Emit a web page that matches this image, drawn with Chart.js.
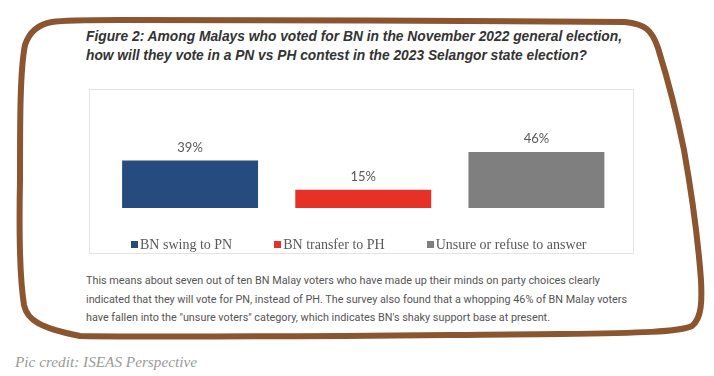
<!DOCTYPE html>
<html>
<head>
<meta charset="utf-8">
<script src="https://cdn.jsdelivr.net/npm/chart.js@4.4.0/dist/chart.umd.min.js"></script>
<style>
  html, body { margin: 0; padding: 0; background: #fff; }
  #page { position: relative; width: 714px; height: 376px; overflow: hidden; }
  .line { position: absolute; white-space: nowrap; transform-origin: 0 50%; line-height: 18px; }
  .title { left: 86px; font: italic bold 14px "Liberation Sans", Arial, sans-serif; color: #333; }
  .para { left: 86px; font: 11px Roboto, sans-serif; color: #555; }
  #credit { left: 15px; top: 354px; font: italic 15px "Liberation Serif", serif; color: #9a9a9a; }
  #box { position: absolute; left: 89px; top: 89px; width: 543px; height: 163px; border: 1px solid #e4e4e4; }
  #chartWrap { position: absolute; left: 89px; top: 89px; width: 545px; height: 165px; }
  #legend { position: absolute; left: 131px; top: 236px; display: flex; gap: 42px;
            font: 14px "Liberation Serif", "Times New Roman", serif; color: #595959; line-height: 18px; }
  #legend span.sw { display: inline-block; width: 7px; height: 7px; margin-right: 2px; vertical-align: 1px; }
  svg { position: absolute; left: 0; top: 0; }
</style>
</head>
<body>
<div id="page">
  <div class="line title" style="top:28px" data-w="536">Figure 2: Among Malays who voted for BN in the November 2022 general election,</div>
  <div class="line title" style="top:47px" data-w="501">how will they vote in a PN vs PH contest in the 2023 Selangor state election?</div>

  <div id="box"></div>
  <div id="chartWrap"><canvas id="myChart"></canvas></div>
  <div id="legend"></div>

  <div class="line para" style="top:274px" data-w="514">This means about seven out of ten BN Malay voters who have made up their minds on party choices clearly</div>
  <div class="line para" style="top:293px" data-w="541">indicated that they will vote for PN, instead of PH. The survey also found that a whopping 46% of BN Malay voters</div>
  <div class="line para" style="top:311px" data-w="464">have fallen into the "unsure voters" category, which indicates BN's shaky support base at present.</div>

  <div class="line" id="credit" data-w="182">Pic credit: ISEAS Perspective</div>

  <svg width="714" height="376">
    <path d="M 52 22 C 40 24, 30 30, 25 45 C 20 70, 20 120, 20 180 C 19 230, 20 280, 24 305
             C 27 320, 40 328, 80 336 C 200 338, 420 335, 560 334 C 640 333, 680 332, 692 326
             C 702 318, 702 300, 701 280 C 698 240, 692 195, 684 150 C 676 110, 668 80, 658 48
             C 652 30, 645 24, 625 22 C 500 21, 250 20, 120 20 C 85 20, 65 20, 52 22 Z"
          fill="none" stroke="#8b5530" stroke-width="6" stroke-linejoin="round"/>
  </svg>
</div>

<script>
seriesNames = ["BN swing to PN", "BN transfer to PH", "Unsure or refuse to answer"];
seriesValues = [39, 15, 46];
seriesColors = ["#264b7f", "#e63127", "#7f7f7f"];
categories = [""];

// labels above each bar
var valueLabels = {
    id: 'valueLabels',
    afterDatasetsDraw: function (chart) {
        var ctx = chart.ctx;
        ctx.save();
        ctx.font = '13px Lato, sans-serif';
        ctx.fillStyle = '#595959';
        ctx.textAlign = 'center';
        ctx.textBaseline = 'middle';
        chart.data.datasets.forEach(function (ds, i) {
            chart.getDatasetMeta(i).data.forEach(function (bar, j) {
                ctx.fillText(ds.data[j] + '%', bar.x, bar.y - 13);
            });
        });
        ctx.restore();
    }
};

// legend built in html from the chart's own legend items
var htmlLegend = {
    id: 'htmlLegend',
    afterUpdate: function (chart) {
        var box = document.getElementById('legend');
        box.innerHTML = '';
        var items = chart.options.plugins.legend.labels.generateLabels(chart);
        items.forEach(function (item) {
            var el = document.createElement('div');
            var sw = document.createElement('span');
            sw.className = 'sw';
            sw.style.background = item.fillStyle;
            el.appendChild(sw);
            el.appendChild(document.createTextNode(item.text));
            box.appendChild(el);
        });
    }
};

function renderChart() {
    var ctx = document.getElementById("myChart").getContext('2d');
    var datasets = seriesNames.map(function (name, i) {
        return {
            label: name,
            data: [seriesValues[i]],
            backgroundColor: seriesColors[i],
            barPercentage: 0.785,
            categoryPercentage: 1
        };
    });
    return new Chart(ctx, {
        type: 'bar',
        data: { labels: categories, datasets: datasets },
        options: {
            responsive: true,
            maintainAspectRatio: false,
            animation: false,
            layout: { padding: { top: 21.4, bottom: 46, left: 14.5, right: 11 } },
            scales: {
                x: { display: false },
                y: { display: false, min: 0, max: 80 }
            },
            plugins: {
                legend: { display: false },
                tooltip: { enabled: false }
            }
        },
        plugins: [valueLabels, htmlLegend]
    });
}

renderChart();

// squeeze the text lines to the widths in the picture
document.querySelectorAll('[data-w]').forEach(function (el) {
    var w = el.getBoundingClientRect().width;
    el.style.transform = 'scaleX(' + (parseFloat(el.dataset.w) / w) + ')';
});
</script>
</body>
</html>
